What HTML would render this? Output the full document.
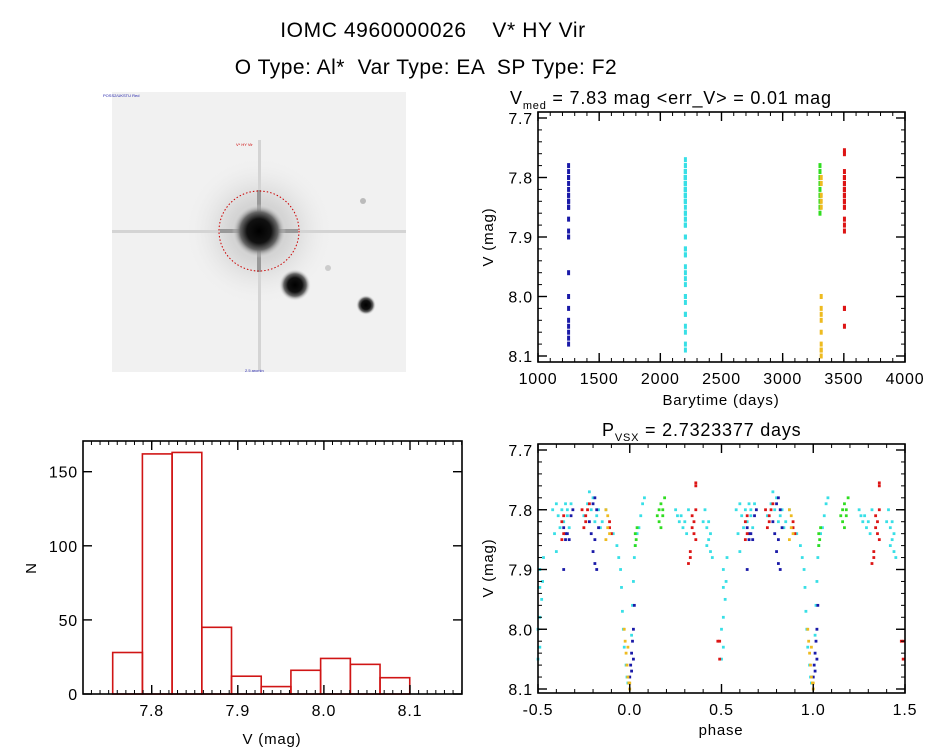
<!DOCTYPE html>
<html><head><meta charset="utf-8"><style>
body{margin:0;background:#fff;}
svg{display:block;font-family:"Liberation Sans","DejaVu Sans",sans-serif;}
</style></head><body>
<svg id="fig" width="944" height="747" viewBox="0 0 944 747">
<text x="433" y="37" font-size="21" letter-spacing="0.6" text-anchor="middle" xml:space="preserve">IOMC 4960000026    V* HY Vir</text>
<text x="426" y="74" font-size="21" letter-spacing="0.5" text-anchor="middle" xml:space="preserve">O Type: Al*  Var Type: EA  SP Type: F2</text>
<g>
<defs>
<radialGradient id="glow"><stop offset="0" stop-color="#000"/><stop offset="0.45" stop-color="#111"/><stop offset="0.7" stop-color="#666"/><stop offset="1" stop-color="#eee" stop-opacity="0"/></radialGradient>
<radialGradient id="halo"><stop offset="0" stop-color="#bbb"/><stop offset="0.5" stop-color="#ddd"/><stop offset="1" stop-color="#f1f1f1" stop-opacity="0"/></radialGradient>
</defs>
<rect x="112" y="92" width="294" height="280" fill="#f1f1f1"/>
<circle cx="259" cy="231" r="75" fill="url(#halo)"/>
<rect x="112" y="230" width="294" height="3" fill="#d4d4d4"/>
<rect x="258" y="140" width="3" height="230" fill="#d4d4d4"/>
<rect x="220" y="229" width="78" height="4" fill="#999"/>
<rect x="257" y="190" width="4" height="82" fill="#999"/>
<circle cx="259" cy="231" r="27" fill="url(#glow)"/>
<circle cx="259" cy="231" r="40" fill="none" stroke="#c00" stroke-width="1" stroke-dasharray="1.5 2"/>
<circle cx="295" cy="285" r="16" fill="url(#glow)"/>
<circle cx="366" cy="305" r="10" fill="url(#glow)"/>
<circle cx="363" cy="201" r="3" fill="#bbb"/>
<circle cx="328" cy="268" r="3" fill="#ccc"/>
<text x="236" y="146" font-size="4" fill="#c00">V* HY Vir</text>
<text x="103" y="97" font-size="4" fill="#22a">POSS2/UKSTU Red</text>
<text x="245" y="372" font-size="4" fill="#22a">2.5 arcmin</text>
</g>
<g id="lc"></g>
<g id="hist"></g>
<g id="ph"></g>
</svg>
<script>
const seriesNames = ['cyan','blue','red','green','yellow'];
const seriesColors = ['#38dfe6','#1a1aa8','#dd1515','#30dd20','#eebb20'];
const seriesTimes = [2205,1250,3505,3305,3315];
const cyanPhase = [-0.49,-0.49,-0.48,-0.49,-0.5,-0.49,-0.5,-0.47,-0.475,-0.42,-0.41,-0.40,-0.40,-0.39,-0.38,-0.37,-0.36,-0.35,-0.34,-0.33,-0.34,-0.32,-0.25,-0.23,-0.22,-0.21,-0.20,-0.19,-0.18,-0.17,-0.16,-0.15,-0.13,-0.09,-0.07,-0.06,-0.05,-0.045,-0.04,-0.035,-0.03,-0.02,-0.015,-0.01,0.01,0.015,0.02,0.025,0.03,0.04,0.05,0.06,0.07,0.08,0.25,0.26,0.27,0.28,0.29,0.30,0.31,0.32,0.40,0.41,0.42,0.43,0.44,0.43,0.45,0.44,0.42];
const cyanMag = [7.90,7.93,7.95,7.98,8.00,8.03,8.05,7.88,7.92,7.80,7.84,7.87,7.79,7.81,7.83,7.80,7.82,7.79,7.81,7.83,7.80,7.79,7.81,7.79,7.77,7.80,7.78,7.82,7.81,7.80,7.83,7.82,7.80,7.84,7.86,7.88,7.90,7.93,7.97,8.00,8.03,8.06,8.08,8.09,8.01,7.96,7.92,7.88,7.86,7.84,7.83,7.81,7.79,7.78,7.80,7.81,7.82,7.81,7.83,7.82,7.84,7.80,7.82,7.80,7.83,7.85,7.87,7.82,7.88,7.84,7.86];
const bluePhase = [-0.36,-0.35,-0.34,-0.33,-0.32,-0.31,-0.36,-0.35,-0.22,-0.21,-0.20,-0.19,-0.18,-0.17,-0.20,-0.19,-0.18,-0.19,0.0,0.005,0.01,0.015,0.02,0.025,0.02,0.01];
const blueMag = [7.83,7.85,7.84,7.85,7.81,7.80,7.90,7.84,7.82,7.84,7.79,7.78,7.80,7.83,7.87,7.89,7.90,7.85,8.08,8.06,8.04,8.02,8.00,7.96,8.05,8.07];
const redPhase = [-0.37,-0.36,-0.37,-0.36,-0.26,-0.25,-0.24,-0.23,-0.22,-0.24,-0.11,-0.10,-0.11,0.33,0.32,0.34,0.35,0.36,0.34,0.36,0.36,0.36,0.35,0.33,0.48,0.49,0.49];
const redMag = [7.82,7.84,7.85,7.81,7.80,7.83,7.82,7.80,7.79,7.81,7.83,7.84,7.82,7.87,7.89,7.81,7.82,7.80,7.83,7.85,7.755,7.76,7.84,7.88,8.02,8.02,8.05];
const greenPhase = [0.03,0.035,0.04,0.03,0.15,0.16,0.17,0.18,0.19,0.17,0.18,0.16];
const greenMag = [7.84,7.85,7.83,7.86,7.81,7.80,7.79,7.80,7.78,7.83,7.81,7.82];
const yellowPhase = [-0.13,-0.12,-0.12,-0.11,-0.13,-0.03,-0.025,-0.02,-0.015,-0.01,-0.005,0.0,0.0,-0.01];
const yellowMag = [7.80,7.81,7.83,7.84,7.85,8.00,8.02,8.04,8.06,8.08,8.09,8.10,8.09,8.03];
const allPhase = [cyanPhase,bluePhase,redPhase,greenPhase,yellowPhase];
const allMag = [cyanMag,blueMag,redMag,greenMag,yellowMag];
const histCounts = [28,162,163,45,12,5,16,24,20,11];
const histStart = 7.7547;
const histBin = 0.0345;
const magTicks = [7.7,7.8,7.9,8.0,8.1];
const timeTicks = [1000,1500,2000,2500,3000,3500,4000];
const phaseTicks = [-0.5,0.0,0.5,1.0,1.5];
const histXTicks = [7.8,7.9,8.0,8.1];
const histYTicks = [0,50,100,150];

const NS='http://www.w3.org/2000/svg';
function mk(parent,tag,attrs,text){const e=document.createElementNS(NS,tag);for(const k in attrs)e.setAttribute(k,attrs[k]);if(text!==undefined)e.textContent=text;parent.appendChild(e);return e;}
function lin(d0,d1,r0,r1){return v=>r0+(v-d0)*(r1-r0)/(d1-d0);}

function frame(g,x0,y0,x1,y1){
  const r=mk(g,'rect',{x:x0,y:y0,width:x1-x0,height:y1-y0,fill:'none',stroke:'#000','stroke-width':1.6});
  
  
}
function xTicks(g,sx,vals,fmt,y0,y1,minorStep,dmin,dmax){
  for(let v=dmin;v<=dmax+1e-9;v+=minorStep){const x=sx(v);mk(g,'line',{x1:x,x2:x,y1:y1,y2:y1-4,stroke:'#000'});mk(g,'line',{x1:x,x2:x,y1:y0,y2:y0+4,stroke:'#000'});}
  vals.forEach(v=>{const x=sx(v);mk(g,'line',{x1:x,x2:x,y1:y1,y2:y1-9,stroke:'#000','stroke-width':1.4});mk(g,'line',{x1:x,x2:x,y1:y0,y2:y0+9,stroke:'#000','stroke-width':1.4});
    const t=mk(g,'text',{x:x,y:y1+22,'font-size':16,'letter-spacing':0.8,'text-anchor':'middle'},fmt(v));
    
    });
}
function yTicks(g,sy,vals,fmt,x0,x1,minorStep,dmin,dmax){
  if(minorStep) for(let v=dmin;v<=dmax+1e-9;v+=minorStep){const y=sy(v);mk(g,'line',{x1:x0,x2:x0+4,y1:y,y2:y,stroke:'#000'});mk(g,'line',{x1:x1,x2:x1-4,y1:y,y2:y,stroke:'#000'});}
  vals.forEach(v=>{const y=sy(v);mk(g,'line',{x1:x0,x2:x0+9,y1:y,y2:y,stroke:'#000','stroke-width':1.4});mk(g,'line',{x1:x1,x2:x1-9,y1:y,y2:y,stroke:'#000','stroke-width':1.4});
    const t=mk(g,'text',{x:x0-5,y:y+6,'font-size':16,'letter-spacing':0.8,'text-anchor':'end'},fmt(v));
    
    });
}
function ylabel(g,x,y,s,name){const t=mk(g,'text',{x:x,y:y,'font-size':15,'letter-spacing':0.8,'text-anchor':'middle',transform:`rotate(-90 ${x} ${y})`},s);
  
  }
function xlabel(g,x,y,s,name){const t=mk(g,'text',{x:x,y:y,'font-size':15,'letter-spacing':0.8,'text-anchor':'middle'},s);
  
  }

// Light curve
(function(){
  const g=document.getElementById('lc');
  const X0=538,X1=905,Y0=112,Y1=362;
  const sx=lin(1000,4000,X0,X1), sy=lin(7.7,8.1,118,356);
  allMag.forEach((mags,si)=>{mags.forEach(m=>{
    const r=mk(g,'rect',{x:sx(seriesTimes[si])-1.5,y:sy(m)-2.5,width:3,height:5,fill:seriesColors[si]});
    
    });});
  frame(g,X0,Y0,X1,Y1);
  xTicks(g,sx,timeTicks,v=>String(v),Y0,Y1,100,1000,4000);
  yTicks(g,sy,magTicks,v=>v.toFixed(1),X0,X1,0.02,7.7,8.1);
  xlabel(g,721,405,'Barytime (days)','x-axis-title');
  ylabel(g,493,237,'V (mag)','y-axis-title');
  const t=mk(g,'text',{x:510,y:104,'font-size':18,'letter-spacing':0.8},'');
  
  
  t.innerHTML='V<tspan font-size="11" dy="5">med</tspan><tspan dy="-5"> = 7.83 mag &lt;err_V&gt; = 0.01 mag</tspan>';
})();

// Histogram
(function(){
  const g=document.getElementById('hist');
  const X0=83,X1=462,Y0=441,Y1=694;
  const sx=lin(7.8,8.1,151.7,410), sy=lin(0,150,694,471.7);
  histCounts.forEach((c,i)=>{
    const a=sx(histStart+i*histBin), b=sx(histStart+(i+1)*histBin);
    const r=mk(g,'rect',{x:a,y:sy(c),width:b-a,height:sy(0)-sy(c),fill:'none',stroke:'#d01515','stroke-width':1.6});
    
    });
  frame(g,X0,Y0,X1,Y1);
  xTicks(g,sx,histXTicks,v=>v.toFixed(1),Y0,Y1,0.01,7.73,8.16);
  yTicks(g,sy,histYTicks,v=>String(v),X0,X1,0,0,0);
  xlabel(g,272,744,'V (mag)','x-axis-title');
  ylabel(g,36,568,'N','y-axis-title');
})();

// Phased
(function(){
  const g=document.getElementById('ph');
  const X0=538,X1=905,Y0=444,Y1=693;
  const sx=lin(-0.5,1.5,X0,X1), sy=lin(7.7,8.1,450,689);
  allPhase.forEach((ph,si)=>{ph.forEach((p,i)=>{[p,p+1].forEach(q=>{
    const r=mk(g,'rect',{x:sx(q)-1.4,y:sy(allMag[si][i])-1.4,width:2.8,height:2.8,fill:seriesColors[si]});
    
    });});});
  frame(g,X0,Y0,X1,Y1);
  xTicks(g,sx,phaseTicks,v=>v.toFixed(1),Y0,Y1,0.1,-0.5,1.5);
  yTicks(g,sy,magTicks,v=>v.toFixed(1),X0,X1,0.02,7.7,8.1);
  xlabel(g,721,735,'phase','x-axis-title');
  ylabel(g,493,568,'V (mag)','y-axis-title');
  const t=mk(g,'text',{x:602,y:436,'font-size':18,'letter-spacing':0.8},'');
  
  
  t.innerHTML='P<tspan font-size="11" dy="5">VSX</tspan><tspan dy="-5"> = 2.7323377 days</tspan>';
})();
</script>
</body></html>
